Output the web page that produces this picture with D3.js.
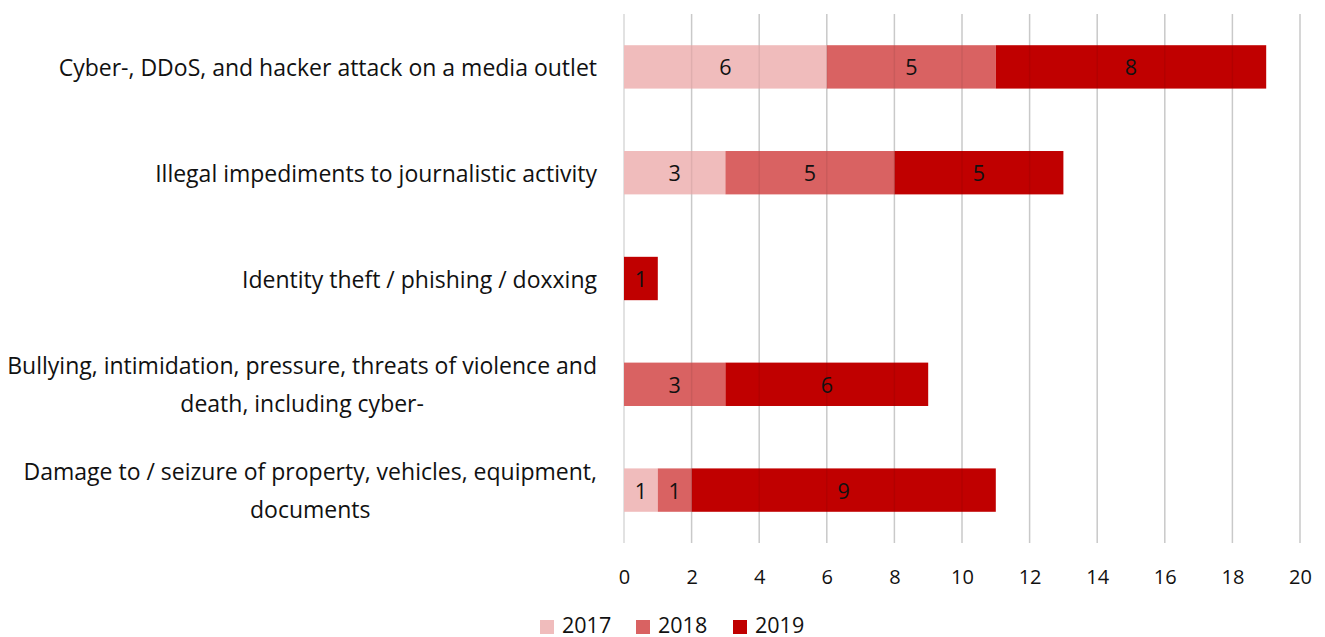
<!DOCTYPE html>
<html>
<head>
<meta charset="utf-8">
<script src="https://cdn.jsdelivr.net/npm/d3@7"></script>
<style>
  html, body { margin: 0; padding: 0; background: #fff; }
  svg text { font-family: "Open Sans", Lato, sans-serif; fill: #111; }
</style>
</head>
<body>
<svg id="chart" width="1325" height="637"></svg>
<script>
// Categories (top to bottom) and counts per year
const categories = [
  "Cyber-, DDoS, and hacker attack on a media outlet",
  "Illegal impediments to journalistic activity",
  "Identity theft / phishing / doxxing",
  "Bullying, intimidation, pressure, threats of violence and|death, including cyber-",
  "Damage to / seizure of property, vehicles, equipment,|documents"
];
const years = ["2017", "2018", "2019"];
const values2017 = [6, 3, 0, 0, 1];
const values2018 = [5, 5, 0, 3, 1];
const values2019 = [8, 5, 1, 6, 9];
const xTicks = [0, 2, 4, 6, 8, 10, 12, 14, 16, 18, 20];
const colors = ["#f0bcbc", "#d96262", "#c00000"];

const svg = d3.select("#chart");
const margin = { left: 624, right: 25, top: 14, bottom: 94 };
const W = 1325, H = 637;
const catFont = 23;
const valueFont = 21.5;

const x = d3.scaleLinear().domain([0, 20]).range([margin.left, W - margin.right]);
const y = d3.scaleBand().domain(categories).range([margin.top, H - margin.bottom]).paddingInner(0.59).paddingOuter(0.295);

const rows = categories.map((c, i) => ({ cat: c, "2017": values2017[i], "2018": values2018[i], "2019": values2019[i] }));
const stacked = d3.stack().keys(years)(rows);

// vertical gridlines
svg.append("g").selectAll("line").data(xTicks).join("line")
  .attr("x1", d => x(d)).attr("x2", d => x(d))
  .attr("y1", margin.top).attr("y2", H - margin.bottom)
  .attr("stroke", "#d9d9d9").attr("stroke-width", 1.5);

// stacked bars
const layers = svg.append("g").selectAll("g").data(stacked).join("g")
  .attr("fill", (d, i) => colors[i]);
layers.selectAll("rect").data(d => d).join("rect")
  .attr("x", d => x(d[0]))
  .attr("width", d => x(d[1]) - x(d[0]))
  .attr("y", d => y(d.data.cat))
  .attr("height", y.bandwidth());

// faint grid visible over the bars
svg.append("g").selectAll("line").data(xTicks.slice(1)).join("line")
  .attr("x1", d => x(d)).attr("x2", d => x(d))
  .attr("y1", margin.top).attr("y2", H - margin.bottom)
  .attr("stroke", "rgba(0,0,0,0.07)").attr("stroke-width", 1.5);

// value labels
stacked.forEach(layer => {
  svg.append("g").selectAll("text").data(layer.filter(d => d[1] - d[0] > 0)).join("text")
    .attr("x", d => (x(d[0]) + x(d[1])) / 2)
    .attr("y", d => y(d.data.cat) + y.bandwidth() / 2)
    .attr("text-anchor", "middle").attr("dominant-baseline", "central")
    .attr("font-size", valueFont)
    .text(d => d[1] - d[0]);
});

// x axis labels
const xAxis = svg.append("g").attr("transform", `translate(0,${H - margin.bottom + 27})`)
  .call(d3.axisBottom(x).tickValues(xTicks).tickSize(0).tickPadding(0));
xAxis.select(".domain").remove();
xAxis.selectAll("text").attr("font-size", 20).attr("font-family", "'Open Sans', sans-serif").attr("fill", "#111");

// category labels (multi-line labels centred on their longest line)
const labelRight = 597;
categories.forEach(c => {
  const lines = c.split("|");
  const cy = y(c) + y.bandwidth() / 2;
  const g = svg.append("g");
  const texts = lines.map((l, i) => g.append("text")
    .attr("font-size", catFont)
    .attr("dominant-baseline", "central")
    .attr("y", cy + (i - (lines.length - 1) / 2) * 38)
    .text(l));
  if (lines.length === 1) {
    texts[0].attr("x", labelRight).attr("text-anchor", "end");
  } else {
    const maxW = d3.max(texts, t => t.node().getComputedTextLength());
    texts.forEach(t => t.attr("x", labelRight - maxW / 2).attr("text-anchor", "middle"));
  }
});

// legend
const legendX = [540, 636, 733];
const legend = svg.append("g");
years.forEach((yr, i) => {
  legend.append("rect").attr("x", legendX[i]).attr("y", 620).attr("width", 14).attr("height", 14).attr("fill", colors[i]);
  legend.append("text").attr("x", legendX[i] + 22).attr("y", 624).attr("dominant-baseline", "central")
    .attr("font-size", valueFont).text(yr);
});
</script>
</body>
</html>
